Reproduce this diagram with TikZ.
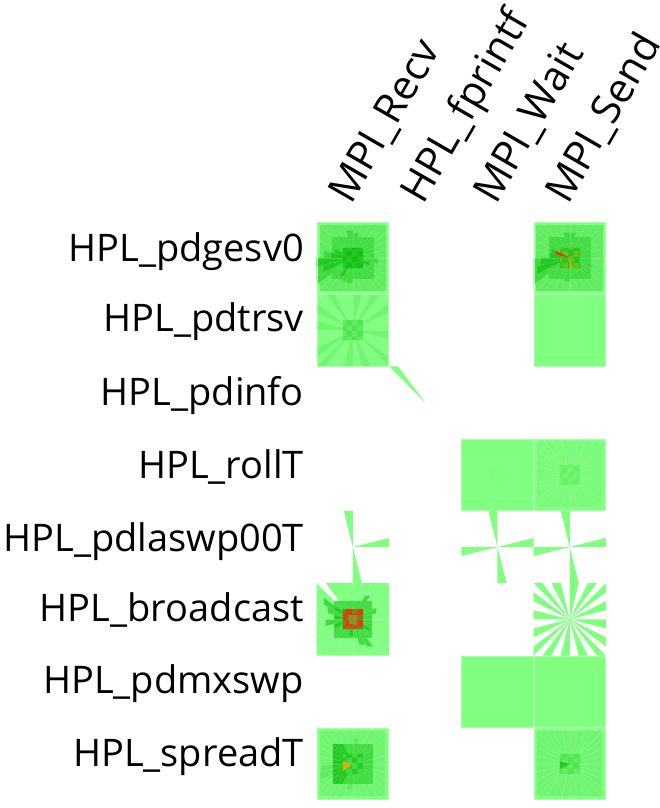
\documentclass[tikz,border=0pt]{standalone}
\usepackage{fontspec}
\setmainfont{Open Sans}
\usetikzlibrary{patterns}

\definecolor{gL}{HTML}{A8FFA8}
\definecolor{gA}{HTML}{80FF80}
\definecolor{gM}{HTML}{70F570}
\definecolor{gB}{HTML}{62EC62}
\definecolor{gC}{HTML}{40DC40}
\definecolor{gD}{HTML}{22CA22}
\definecolor{gE}{HTML}{10B010}
\definecolor{hot}{HTML}{E43A12}
\definecolor{warm}{HTML}{D8B010}

% boundary point t (0..32) of the unit square, clockwise from top left
\pgfmathdeclarefunction{sqx}{1}{\pgfmathparse{#1<8 ? -1+#1/4 : (#1<16 ? 1 : (#1<24 ? 1-(#1-16)/4 : -1))}}
\pgfmathdeclarefunction{sqy}{1}{\pgfmathparse{#1<8 ? -1 : (#1<16 ? -1+(#1-8)/4 : (#1<24 ? 1 : 1-(#1-24)/4))}}

\def\hh{36.15}
\newcommand{\sqcell}[3]{\fill[#3, shift={(#1)}] ({-#2*\hh},{-#2*\hh}) rectangle ({#2*\hh},{#2*\hh});}
\newcommand{\rimcell}[1]{\draw[rim, shift={(#1)}] ({-\hh+0.4},{-\hh+0.4}) rectangle ({\hh-0.4},{\hh-0.4});}
\newcommand{\sector}[4]{\fill[#4, shift={(#1)}] (0,0) -- ({sqx(#2)*#3*\hh},{sqy(#2)*#3*\hh}) -- ({sqx(#2+1)*#3*\hh},{sqy(#2+1)*#3*\hh}) -- cycle;}
\newcommand{\checks}[3]{\fill[pattern=checkerboard, pattern color=#3, opacity=0.45, shift={(#1)}] ({-#2*\hh},{-#2*\hh}) rectangle ({#2*\hh},{#2*\hh});}
\newcommand{\seams}[1]{\foreach \t in {0,...,31} {\draw[seam, shift={(#1)}] ({sqx(\t)*0.3*\hh},{sqy(\t)*0.3*\hh}) -- ({sqx(\t)*\hh},{sqy(\t)*\hh});}}

\tikzset{
  rowlab/.style={anchor=base east, inner sep=0pt, font=\fontsize{38}{44}\selectfont},
  collab/.style={anchor=base west, inner sep=0pt, rotate=60, font=\fontsize{41}{48}\selectfont},
  seam/.style={white, opacity=0.2, line width=0.4pt},
  rim/.style={draw=gL, line width=0.8pt},
}

\begin{document}
\begin{tikzpicture}[x=1pt, y=-1pt]
\useasboundingbox (0,0) rectangle (660,808);

\foreach \c [count=\i from 0] in {recv,fprintf,wait,send}
  \foreach \r [count=\j from 0] in {gesv,trsv,info,roll,laswp,bcast,mxswp,spread}
    {\coordinate (\c-\r) at ({352.85+72.3*\i},{257.85+72.3*\j});}

% row labels
\node (gesv) [rowlab] at (304,261.7) {HPL\_pdgesv0};
\node (trsv) [rowlab] at (304,331.7) {HPL\_pdtrsv};
\node (info) [rowlab] at (304,405) {HPL\_pdinfo};
\node (roll) [rowlab] at (304,478.3) {HPL\_rollT};
\node (laswp) [rowlab] at (304,551.7) {HPL\_pdlaswp00T};
\node (bcast) [rowlab] at (304,621.7) {HPL\_broadcast};
\node (mxswp) [rowlab] at (304,693.3) {HPL\_pdmxswp};
\node (spread) [rowlab] at (304,766.7) {HPL\_spreadT};

% column labels
\node (recv) [collab] at (351,206) {MPI\_Recv};
\node (fprintf) [collab] at (423,206) {HPL\_fprintf};
\node (wait) [collab] at (496,206) {MPI\_Wait};
\node (send) [collab] at (568,206) {MPI\_Send};

% HPL_pdgesv0
\sqcell{recv-gesv}{1}{gA}
\sqcell{recv-gesv}{0.92}{gB}
\foreach \k/\r in {25/1,26/1,27/1,28/0.8,3/0.75,4/0.7,12/0.7,20/0.7,21/0.65} {\sector{recv-gesv}{\k}{\r}{gC}}
\sqcell{recv-gesv}{0.58}{gC}
\foreach \k/\r in {26/0.8,27/1,28/0.6,29/0.5,22/0.5,13/0.45} {\sector{recv-gesv}{\k}{\r}{gD}}
\sqcell{recv-gesv}{0.27}{gD}
\checks{recv-gesv}{0.27}{gE}
\seams{recv-gesv}
\rimcell{recv-gesv}

\sqcell{send-gesv}{1}{gA}
\sqcell{send-gesv}{0.92}{gB}
\foreach \k/\r in {25/1,26/1,27/1,3/0.7,4/0.7,13/0.6,20/0.65} {\sector{send-gesv}{\k}{\r}{gC}}
\sqcell{send-gesv}{0.58}{gC}
\foreach \k/\r in {26/0.9,27/0.8,28/0.55,29/0.5} {\sector{send-gesv}{\k}{\r}{gD}}
\sqcell{send-gesv}{0.27}{gD}
\checks{send-gesv}{0.27}{warm}
\sector{send-gesv}{29}{0.4}{hot}
\sector{send-gesv}{19}{0.3}{warm}
\seams{send-gesv}
\rimcell{send-gesv}

% HPL_pdtrsv
\sqcell{recv-trsv}{1}{gA}
\foreach \k in {1,4,6,9,12,15,18,20,23,25,28,30} {\sector{recv-trsv}{\k}{1}{gM}}
\sqcell{recv-trsv}{0.27}{gB}
\checks{recv-trsv}{0.27}{gC}
\seams{recv-trsv}
\rimcell{recv-trsv}

\sqcell{send-trsv}{1}{gA}
\rimcell{send-trsv}

% HPL_pdinfo
\sector{fprintf-info}{0}{1}{gA}

% HPL_rollT
\sqcell{wait-roll}{1}{gA}
\sqcell{wait-roll}{0.2}{gA!85!gM}
\rimcell{wait-roll}

\sqcell{send-roll}{1}{gA}
\sqcell{send-roll}{0.9}{gA!60!gM}
\sqcell{send-roll}{0.27}{gM}
\checks{send-roll}{0.27}{gB}
\seams{send-roll}
\rimcell{send-roll}

% HPL_pdlaswp00T
\foreach \k in {3,11,19} {\sector{recv-laswp}{\k}{1}{gA}}
\foreach \k in {3,11,19,27} {\sector{wait-laswp}{\k}{1}{gA}}
\foreach \k in {3,11,19,27} {\sector{send-laswp}{\k}{1}{gA}}

% HPL_broadcast
\foreach \k in {1,...,31} {\sector{recv-bcast}{\k}{1}{gA}}
\foreach \k/\r in {27/0.75,30/0.8,29/0.7,17/0.75,18/0.7,6/0.65,10/0.65} {\sector{recv-bcast}{\k}{\r}{gC}}
\sqcell{recv-bcast}{0.52}{gC}
\foreach \k/\r in {26/0.5,28/0.5,30/0.5,20/0.45,14/0.45} {\sector{recv-bcast}{\k}{\r}{gD}}
\sqcell{recv-bcast}{0.28}{hot}
\checks{recv-bcast}{0.28}{gD}
\sqcell{recv-bcast}{0.12}{gC!55!hot}
\seams{recv-bcast}

\foreach \k in {0,2,...,30} {\sector{send-bcast}{\k}{1}{gA}}

% HPL_pdmxswp
\sqcell{wait-mxswp}{1}{gA}
\rimcell{wait-mxswp}
\sqcell{send-mxswp}{1}{gA}
\rimcell{send-mxswp}

% HPL_spreadT
\sqcell{recv-spread}{1}{gA}
\sqcell{recv-spread}{0.9}{gM}
\foreach \k/\r in {26/0.9,27/0.85,4/0.7,20/0.7} {\sector{recv-spread}{\k}{\r}{gB}}
\sqcell{recv-spread}{0.55}{gC}
\foreach \k in {22,23,24,25,26,27,28,29,30,31,0,1} {\sector{recv-spread}{\k}{0.55}{gD}}
\sqcell{recv-spread}{0.27}{gC}
\checks{recv-spread}{0.27}{gE}
\foreach \k in {25,26,27,28} {\sector{recv-spread}{\k}{0.27}{warm}}
\seams{recv-spread}
\rimcell{recv-spread}

\sqcell{send-spread}{1}{gA}
\sqcell{send-spread}{0.9}{gM}
\sqcell{send-spread}{0.55}{gM}
\sqcell{send-spread}{0.27}{gB}
\checks{send-spread}{0.27}{gC}
\foreach \k in {26,27,28} {\sector{send-spread}{\k}{0.27}{gD}}
\seams{send-spread}
\rimcell{send-spread}

\end{tikzpicture}
\end{document}
